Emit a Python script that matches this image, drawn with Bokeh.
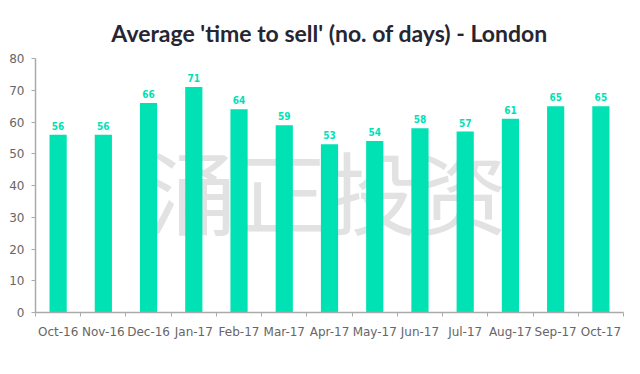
from bokeh.plotting import figure
from bokeh.models import ColumnDataSource, FixedTicker, Range1d, Label
from bokeh.embed import file_html
from bokeh.resources import INLINE
from bokeh.core.properties import value

months = ["Oct-16", "Nov-16", "Dec-16", "Jan-17", "Feb-17", "Mar-17", "Apr-17",
          "May-17", "Jun-17", "Jul-17", "Aug-17", "Sep-17", "Oct-17"]
days = [56, 56, 66, 71, 64, 59, 53, 54, 58, 57, 61, 65, 65]
y_ticks = [0, 10, 20, 30, 40, 50, 60, 70, 80]

BAR = "#00E1B4"

xs = [i + 0.5 for i in range(len(months))]
src = ColumnDataSource(dict(x=xs, top=days, lbl=[str(d) for d in days]))

p = figure(width=624, height=358, output_backend="svg", toolbar_location=None,
           x_range=Range1d(0, len(months)), y_range=Range1d(0, 80))
p.min_border_left = 35
p.min_border_right = 1
p.min_border_top = 58
p.min_border_bottom = 46
p.outline_line_color = None
p.grid.visible = False
p.background_fill_color = "white"
p.border_fill_color = "white"

p.title.text = "Average 'time to sell' (no. of days) - London"
p.title.align = "center"
p.title.text_font = "Lato"
p.title.text_font_style = "bold"
p.title.text_font_size = "23px"
p.title.text_color = "#262633"
p.title.offset = 0
p.title.standoff = 24

# watermark
p.add_layout(Label(x=len(months) / 2 - 0.05, y=39, text="涌正投资", text_align="center",
                   text_baseline="middle", text_font="Noto Sans CJK SC",
                   text_font_size="90px", text_color="#cfcfcf", text_alpha=0.6,
                   level="underlay"))

p.vbar(x="x", top="top", width=0.38, source=src, color=BAR, line_color=None)
p.text(x="x", y="top", text="lbl", source=src, text_align="center",
       text_baseline="bottom", y_offset=-5, text_font=value("DejaVu Sans Condensed"),
       text_font_style="bold", text_font_size="10px", text_color=BAR)

xa = p.xaxis[0]
xa.ticker = FixedTicker(ticks=xs, minor_ticks=list(range(len(months) + 1)))
xa.major_label_overrides = {x: m for x, m in zip(xs, months)}
xa.major_tick_out = 0
xa.major_tick_in = 0
xa.minor_tick_out = 4
xa.minor_tick_in = 0
xa.minor_tick_line_color = "#aaaaaa"
xa.axis_line_color = "#aaaaaa"
xa.axis_line_width = 1.5
xa.major_label_text_font = "DejaVu Sans"
xa.major_label_text_font_size = "12px"
xa.major_label_text_color = "#666666"
xa.major_label_standoff = 8

ya = p.yaxis[0]
ya.ticker = FixedTicker(ticks=y_ticks)
ya.major_tick_out = 4
ya.major_tick_in = 0
ya.minor_tick_out = 0
ya.major_tick_line_color = "#aaaaaa"
ya.axis_line_color = "#aaaaaa"
ya.axis_line_width = 1.5
ya.major_label_text_font = "DejaVu Sans"
ya.major_label_text_font_size = "12px"
ya.major_label_text_color = "#666666"
ya.major_label_standoff = 7

open("out.html", "w").write(file_html(p, INLINE))
